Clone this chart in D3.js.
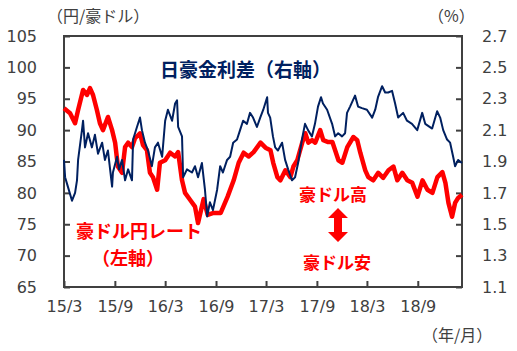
<!DOCTYPE html>
<html>
<head>
<meta charset="utf-8">
<script src="https://cdn.jsdelivr.net/npm/d3@7"></script>
<style>
  body { margin: 0; background: #fff; }
  text { font-family: "DejaVu Sans", sans-serif; }
  .jp { font-family: "Noto Sans CJK JP", sans-serif; }
</style>
</head>
<body>
<div id="chart-area"></div>
<script>
// 豪ドル円 (left axis)
var audDates = ["2015-03-01","2015-03-23","2015-04-10","2015-04-21","2015-05-09","2015-05-23","2015-06-03","2015-06-14",
  "2015-06-28","2015-07-09","2015-07-20","2015-08-07","2015-08-22","2015-09-02","2015-09-12","2015-09-27",
  "2015-10-08","2015-10-19","2015-11-02","2015-11-13","2015-12-01","2015-12-12","2015-12-26","2016-01-06",
  "2016-01-17","2016-02-01","2016-02-11","2016-03-01","2016-03-19","2016-04-06","2016-04-17","2016-05-01",
  "2016-05-12","2016-05-30","2016-06-17","2016-06-28","2016-07-18","2016-08-02","2016-08-23","2016-09-18",
  "2016-10-13","2016-11-04","2016-11-22","2016-12-10","2016-12-28","2017-01-15","2017-02-09","2017-02-27",
  "2017-03-17","2017-03-27","2017-04-11","2017-04-22","2017-05-10","2017-05-28","2017-06-08","2017-06-22",
  "2017-07-10","2017-07-21","2017-08-01","2017-08-15","2017-08-26","2017-09-13","2017-09-24","2017-10-12",
  "2017-10-27","2017-11-18","2017-12-02","2017-12-20","2018-01-11","2018-01-25","2018-02-05","2018-02-23",
  "2018-03-06","2018-03-24","2018-04-11","2018-04-29","2018-05-18","2018-06-05","2018-06-19","2018-07-07",
  "2018-07-25","2018-08-12","2018-08-31","2018-09-18","2018-10-06","2018-10-24","2018-11-11","2018-11-29",
  "2018-12-10","2018-12-21","2019-01-03","2019-01-14","2019-01-25","2019-02-08"];
var audValues = [93.5,92.7,91.1,93.2,96.4,95.6,96.7,95.6,
  93.2,91.1,90.0,92.1,90.0,88.0,84.2,83.2,
  87.3,88.0,87.3,88.7,89.5,87.6,86.8,83.2,
  82.5,80.5,84.8,85.2,86.4,85.8,86.5,82.0,
  80.0,78.9,77.8,75.2,79.0,76.5,76.8,76.8,
  79.4,82.0,84.8,86.4,85.8,86.5,88.0,87.2,
  86.8,84.8,82.5,82.0,83.6,82.5,84.2,85.2,
  88.0,89.5,88.0,88.4,88.0,90.0,88.4,88.1,
  88.1,85.2,84.8,87.3,88.9,88.4,86.4,83.6,
  82.5,82.0,83.2,82.4,83.6,84.2,82.0,83.2,
  82.0,81.6,79.4,82.0,80.5,80.0,82.5,83.3,
  81.6,78.4,76.2,78.4,79.2,79.7];

// 日豪金利差 (right axis, %)
var spreadDates = ["2015-03-01","2015-03-05","2015-03-15","2015-03-30","2015-04-10","2015-04-17","2015-04-21","2015-05-05",
  "2015-05-09","2015-05-16","2015-05-27","2015-06-10","2015-06-21","2015-07-02","2015-07-17","2015-07-27",
  "2015-08-07","2015-08-22","2015-08-25","2015-09-09","2015-09-16","2015-09-27","2015-10-08","2015-10-19",
  "2015-11-02","2015-11-06","2015-11-20","2015-12-01","2015-12-08","2015-12-19","2015-12-30","2016-01-13",
  "2016-01-24","2016-02-04","2016-02-19","2016-03-01","2016-03-11","2016-03-26","2016-04-06","2016-04-13",
  "2016-04-17","2016-05-01","2016-05-05","2016-05-19","2016-06-06","2016-06-17","2016-06-28","2016-07-12",
  "2016-07-23","2016-07-31","2016-08-10","2016-08-21","2016-09-05","2016-09-16","2016-09-26","2016-10-11",
  "2016-10-22","2016-11-02","2016-11-16","2016-11-27","2016-12-08","2016-12-22","2017-01-02","2017-01-13",
  "2017-01-27","2017-02-08","2017-02-19","2017-03-05","2017-03-08","2017-03-16","2017-03-26","2017-04-03",
  "2017-04-13","2017-04-28","2017-05-09","2017-05-20","2017-06-03","2017-06-14","2017-06-25","2017-07-09",
  "2017-07-20","2017-07-31","2017-08-14","2017-08-25","2017-09-05","2017-09-16","2017-09-23","2017-10-08",
  "2017-10-26","2017-11-06","2017-11-17","2017-12-01","2017-12-12","2017-12-19","2017-12-30","2018-01-17",
  "2018-01-28","2018-02-11","2018-03-01","2018-03-20","2018-03-31","2018-04-10","2018-04-25","2018-05-06",
  "2018-05-17","2018-05-31","2018-06-11","2018-06-22","2018-07-10","2018-07-24","2018-08-11","2018-08-30",
  "2018-09-17","2018-09-28","2018-10-23","2018-11-10","2018-11-21","2018-12-02","2018-12-16","2018-12-27",
  "2019-01-07","2019-01-14","2019-01-25","2019-02-08"];
var spreadValues = [1.91,1.80,1.74,1.65,1.70,1.78,1.91,2.10,
  2.16,1.99,2.08,1.99,2.07,1.95,2.02,1.91,
  1.97,1.74,1.83,1.93,1.85,1.91,1.78,1.85,
  1.78,2.04,2.12,2.18,2.10,2.02,1.97,1.87,
  1.99,2.02,1.93,2.16,2.23,2.16,2.27,2.29,
  2.12,2.06,1.80,1.85,1.83,1.87,1.80,1.89,
  1.72,1.55,1.64,1.59,1.72,1.87,1.83,1.91,
  1.93,2.02,2.04,2.10,2.16,2.14,2.21,2.18,
  2.12,2.18,2.23,2.31,2.21,2.18,2.06,1.99,
  1.97,2.02,1.91,1.85,1.78,1.80,1.89,2.04,
  2.14,2.10,2.06,2.14,2.25,2.31,2.27,2.23,
  2.14,2.06,2.08,2.06,2.08,2.21,2.25,2.32,
  2.25,2.24,2.23,2.18,2.23,2.31,2.38,2.34,
  2.34,2.35,2.27,2.18,2.21,2.16,2.14,2.10,
  2.21,2.14,2.11,2.22,2.18,2.10,2.04,2.02,
  1.93,1.87,1.91,1.89];

var leftTicks = [65, 70, 75, 80, 85, 90, 95, 100, 105];
var rightTicks = [1.1, 1.3, 1.5, 1.7, 1.9, 2.1, 2.3, 2.5, 2.7];
var xTickDates = ["2015-03-01","2015-09-01","2016-03-01","2016-09-01","2017-03-01","2017-09-01","2018-03-01","2018-09-01"];
var xTickLabels = ["15/3","15/9","16/3","16/9","17/3","17/9","18/3","18/9"];
var xEnd = "2019-02-08";

var parse = d3.timeParse("%Y-%m-%d");
var aud = audDates.map(function(d, i) { return { date: parse(d), value: audValues[i] }; });
var spread = spreadDates.map(function(d, i) { return { date: parse(d), value: spreadValues[i] }; });

var margin = { left: 64, right: 55, top: 36, bottom: 64 };
var width = 517 - margin.left - margin.right;
var height = 351 - margin.top - margin.bottom;

var svg = d3.select("#chart-area")
  .append("svg")
  .attr("width", 517)
  .attr("height", 351);

var g = svg.append("g")
  .attr("transform", "translate(" + margin.left + "," + margin.top + ")");

// Scales
var x = d3.scaleTime()
  .domain([parse(xTickDates[0]), parse(xEnd)])
  .range([0, width]);

var yL = d3.scaleLinear().domain([65, 105]).range([height, 0]);
var yR = d3.scaleLinear().domain([1.1, 2.7]).range([height, 0]);

var axisColor = "#404040";

// Axes
var xAxis = g.append("g")
  .attr("transform", "translate(0," + height + ")")
  .call(d3.axisBottom(x)
    .tickValues(xTickDates.map(parse))
    .tickSize(-6)
    .tickPadding(14)
    .tickFormat(function(d, i) { return xTickLabels[i]; }));

var yAxisL = g.append("g")
  .call(d3.axisLeft(yL).tickValues(leftTicks).tickSize(-6).tickPadding(27));

var yAxisR = g.append("g")
  .attr("transform", "translate(" + width + ",0)")
  .call(d3.axisRight(yR).tickValues(rightTicks).tickSize(-6).tickPadding(20)
    .tickFormat(d3.format(".1f")));

[xAxis, yAxisL, yAxisR].forEach(function(a) {
  a.select(".domain").remove();
  a.selectAll("line").attr("stroke", axisColor).attr("stroke-width", 2);
  a.selectAll("text").attr("fill", axisColor).attr("font-size", "16px")
    .attr("font-family", "DejaVu Sans, sans-serif");
});

// frame
g.append("rect")
  .attr("width", width)
  .attr("height", height)
  .attr("fill", "none")
  .attr("stroke", axisColor)
  .attr("stroke-width", 2);

// Lines
var lineL = d3.line()
  .x(function(d) { return x(d.date); })
  .y(function(d) { return yL(d.value); });

var lineR = d3.line()
  .x(function(d) { return x(d.date); })
  .y(function(d) { return yR(d.value); });

g.append("path")
  .datum(aud)
  .attr("fill", "none")
  .attr("stroke", "#ff0000")
  .attr("stroke-width", 4.5)
  .attr("stroke-linejoin", "round")
  .attr("d", lineL);

g.append("path")
  .datum(spread)
  .attr("fill", "none")
  .attr("stroke", "#002060")
  .attr("stroke-width", 2)
  .attr("stroke-linejoin", "round")
  .attr("d", lineR);

// unit labels
svg.append("text").attr("class", "jp")
  .attr("x", 47).attr("y", 22)
  .attr("font-size", "16px").attr("fill", axisColor)
  .text("（円/豪ドル）");

svg.append("text").attr("class", "jp")
  .attr("x", 428).attr("y", 22)
  .attr("font-size", "16px").attr("fill", axisColor)
  .text("（%）");

svg.append("text").attr("class", "jp")
  .attr("x", 422).attr("y", 341)
  .attr("font-size", "16px").attr("fill", axisColor)
  .text("（年/月）");

// annotations
svg.append("text").attr("class", "jp")
  .attr("x", 160).attr("y", 77)
  .attr("font-size", "19px").attr("font-weight", "bold").attr("fill", "#002060")
  .text("日豪金利差（右軸）");

svg.append("text").attr("class", "jp")
  .attr("x", 76).attr("y", 238)
  .attr("font-size", "18px").attr("font-weight", "bold").attr("fill", "#ff0000")
  .text("豪ドル円レート");

svg.append("text").attr("class", "jp")
  .attr("x", 92).attr("y", 265)
  .attr("font-size", "18px").attr("font-weight", "bold").attr("fill", "#ff0000")
  .text("（左軸）");

svg.append("text").attr("class", "jp")
  .attr("x", 299).attr("y", 201)
  .attr("font-size", "17px").attr("font-weight", "bold").attr("fill", "#ff0000")
  .text("豪ドル高");

svg.append("text").attr("class", "jp")
  .attr("x", 303).attr("y", 269)
  .attr("font-size", "17px").attr("font-weight", "bold").attr("fill", "#ff0000")
  .text("豪ドル安");

// double arrow
svg.append("path")
  .attr("d", "M338,208 L348,218 L342,218 L342,232 L348,232 L338,242 L328,232 L334,232 L334,218 L328,218 Z")
  .attr("fill", "#ff0000");
</script>
</body>
</html>
